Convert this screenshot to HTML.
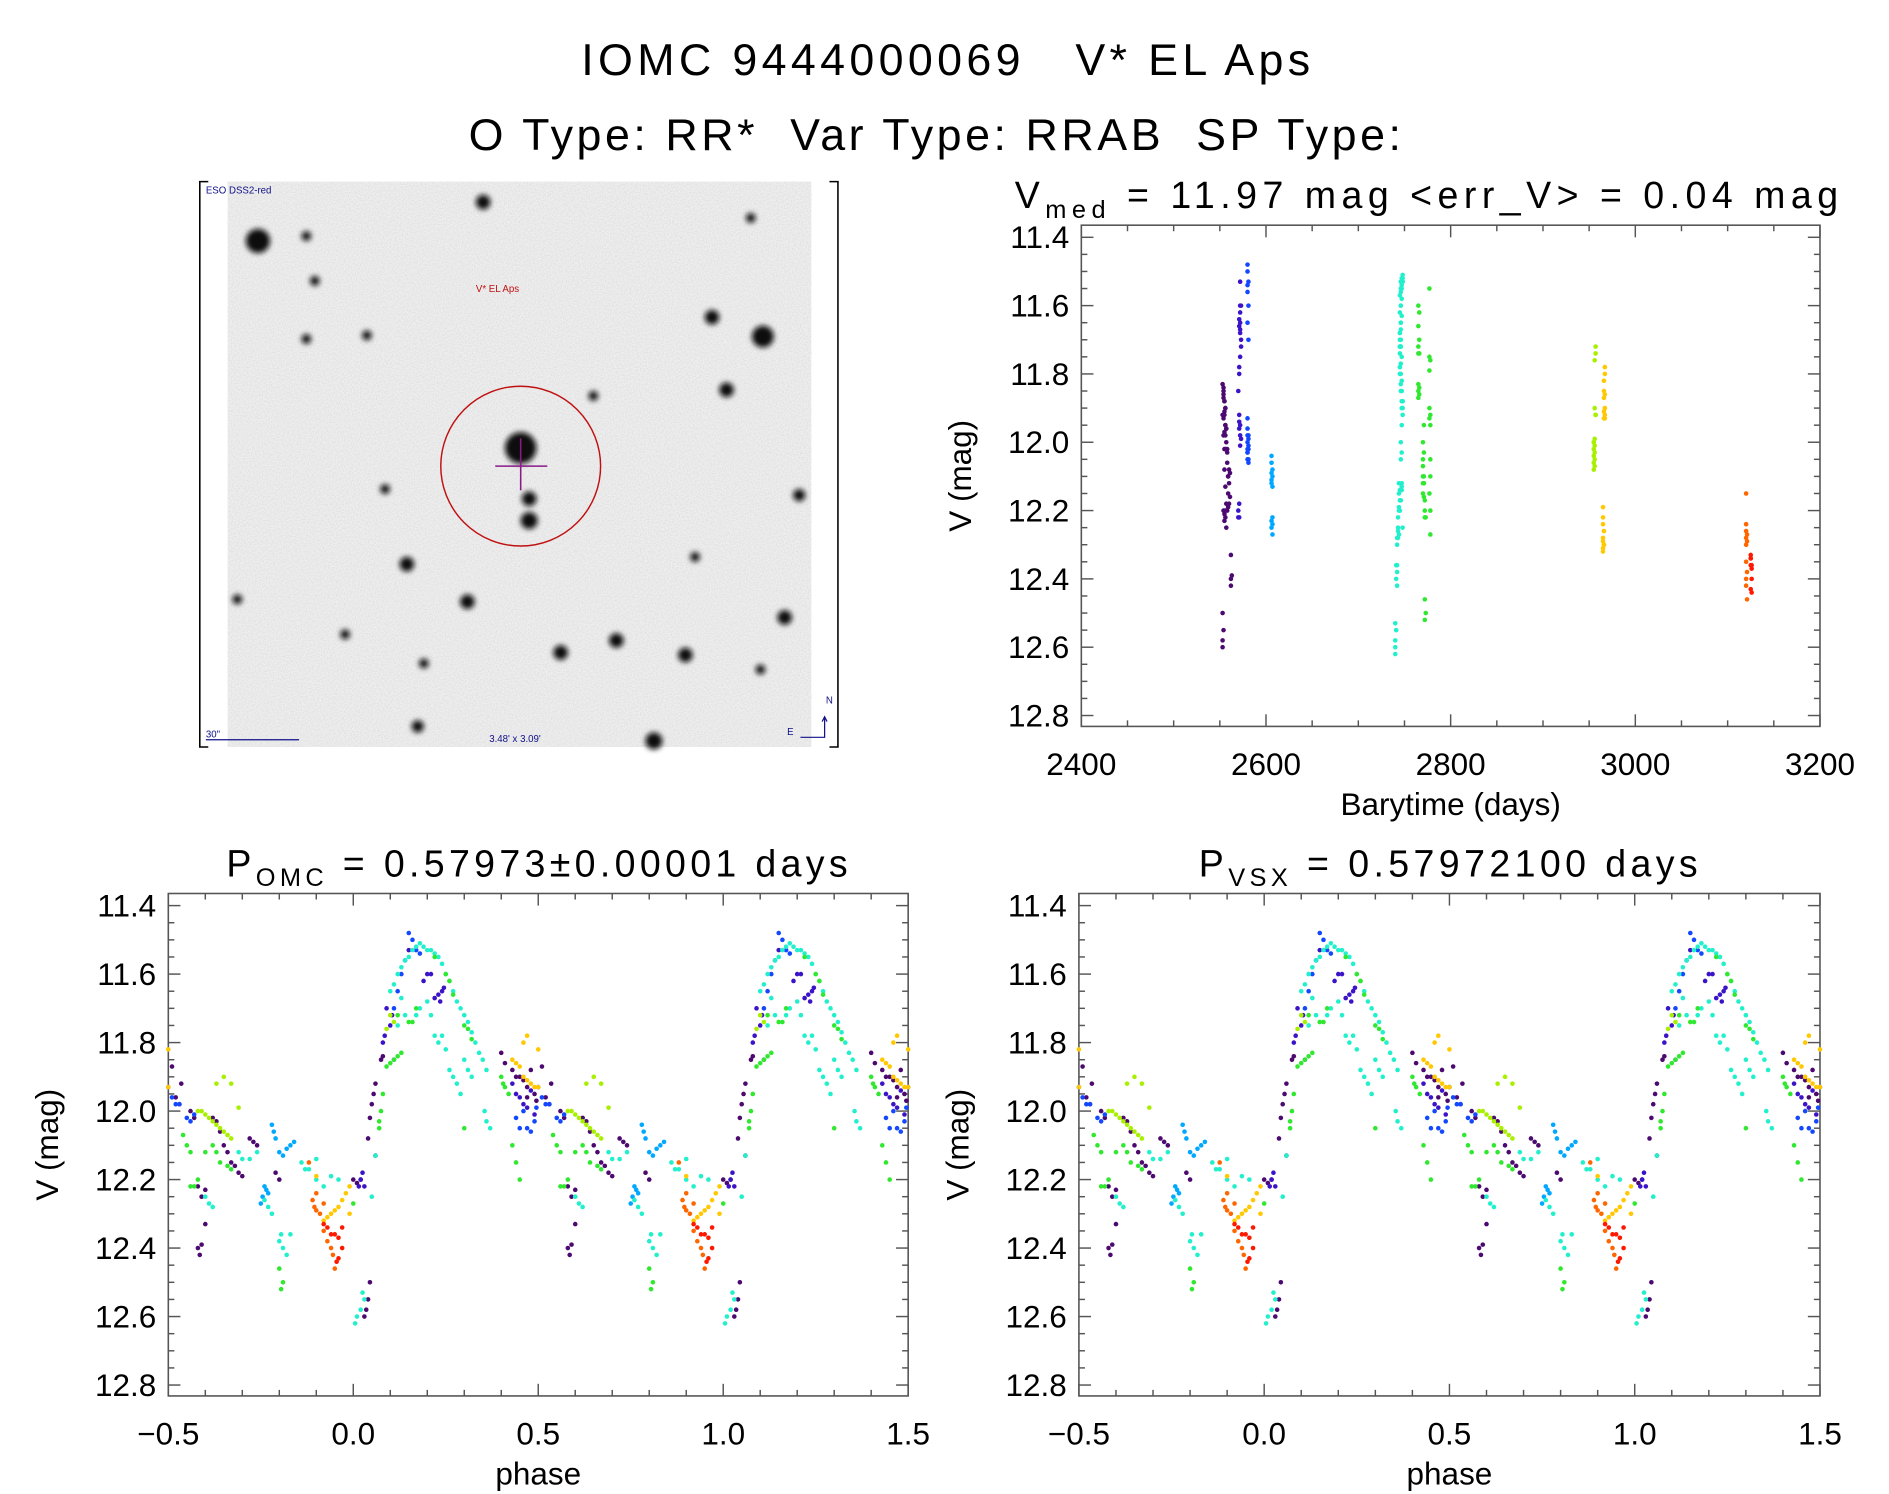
<!DOCTYPE html>
<html><head><meta charset="utf-8"><style>
html,body{margin:0;padding:0;background:#fff;}
svg{display:block;}
text{font-family:"Liberation Sans",sans-serif;fill:#000;}
</style></head><body>
<svg id="fig" width="1889" height="1494" viewBox="0 0 1560 1234" preserveAspectRatio="none" xmlns="http://www.w3.org/2000/svg">
<defs>
<filter id="noise" x="0" y="0" width="100%" height="100%">
<feTurbulence type="fractalNoise" baseFrequency="0.9" numOctaves="1" seed="3"/>
<feColorMatrix type="matrix" values="0 0 0 0 0.5  0 0 0 0 0.5  0 0 0 0 0.5  0 0 0 1.6 -0.6"/>
</filter>
<filter id="blur" x="-100%" y="-100%" width="300%" height="300%"><feGaussianBlur stdDeviation="2.2"/></filter>
</defs>
<text x="781" y="62" font-size="37" text-anchor="middle" textLength="602" xml:space="preserve">IOMC 9444000069   V* EL Aps</text>
<text x="772" y="124" font-size="37" text-anchor="middle" textLength="770" xml:space="preserve">O Type: RR*  Var Type: RRAB  SP Type:</text>
<g id="sky"></g>
<g id="tr"></g>
<g id="bl"></g>
<g id="br"></g>
</svg>
<script>
// ---- data: [barytime, phase, V mag] per color group ----
const purplePts=[[2555,0.04,12.08],[2555,0.045,12.02],[2556,0.05,11.98],[2556,0.055,11.95],[2555,0.06,11.92],[2554,0.075,11.85],[2554,0.08,11.84],[2553,0.40,11.83],[2554,0.41,11.86],[2555,0.43,11.88],[2556,0.45,11.9],[2555,0.46,11.91],[2554,0.47,11.93],[2555,0.48,11.88],[2556,0.49,11.95],[2555,0.495,11.97],[2557,0.52,11.96],[2557,0.56,12.0],[2558,0.57,12.02],[2556,0.62,12.02],[2558,0.63,12.03],[2559,0.65,12.1],[2560,0.66,12.12],[2561,0.68,12.16],[2560,0.69,12.18],[2559,0.7,12.19],[2560,0.72,12.08],[2561,0.73,12.09],[2559,0.74,12.1],[2557,0.79,12.18],[2558,0.8,12.2],[2556,0.58,12.22],[2557,0.59,12.25],[2555,0.6,12.23],[2562,0.58,12.4],[2562,0.585,12.42],[2563,0.59,12.39],[2562,0.6,12.33],[2553,0.03,12.6],[2553,0.035,12.58],[2554,0.04,12.55],[2553,0.045,12.5],[2556,0.0,12.2],[2555,0.01,12.21],[2554,0.02,12.2],[2554,0.53,11.98],[2553,0.535,11.92],[2554,0.51,11.87],[2556,0.44,11.9],[2557,0.47,11.96],[2558,0.64,12.06],[2559,0.67,12.15],[2556,0.06,12.13]];
const indigoPts=[[2572,0.19,11.62],[2572,0.2,11.6],[2573,0.21,11.6],[2572,0.22,11.67],[2571,0.23,11.66],[2572,0.235,11.68],[2571,0.08,11.8],[2571,0.085,11.78],[2572,0.1,11.75],[2573,0.105,11.72],[2573,0.09,11.7],[2572,0.15,11.53],[2571,0.43,11.92],[2572,0.44,11.95],[2571,0.45,11.96],[2572,0.46,11.98],[2573,0.47,11.99],[2571,0.48,11.94],[2572,0.49,12.01],[2570,0.02,12.2],[2571,0.03,12.22],[2570,0.015,12.22],[2571,0.025,12.18],[2572,0.24,11.65],[2571,0.245,11.64],[2570,0.11,11.85]];
const bluePts=[[2580,0.15,11.48],[2580,0.16,11.5],[2581,0.17,11.53],[2580,0.18,11.54],[2580,0.14,11.56],[2581,0.13,11.6],[2580,0.12,11.65],[2581,0.11,11.7],[2580,0.5,11.93],[2580,0.51,11.96],[2581,0.52,11.98],[2580,0.53,11.98],[2581,0.55,12.02],[2580,0.56,12.03],[2581,0.57,12.01],[2580,0.47,12.05],[2581,0.48,12.06],[2580,0.49,12.03],[2580,0.44,12.02],[2581,0.45,12.05],[2580,0.46,12.0],[2581,0.495,11.99]];
const skyPts=[[2606,0.78,12.04],[2607,0.79,12.08],[2606,0.8,12.12],[2607,0.81,12.13],[2606,0.82,12.11],[2607,0.83,12.1],[2606,0.84,12.09],[2607,0.76,12.22],[2606,0.765,12.23],[2607,0.77,12.24],[2606,0.755,12.25],[2607,0.75,12.27],[2606,0.785,12.06]];
const cyanPts=[[2746,0.1,11.65],[2747,0.11,11.63],[2746,0.12,11.6],[2747,0.13,11.58],[2746,0.14,11.56],[2747,0.15,11.55],[2748,0.16,11.53],[2748,0.17,11.52],[2748,0.18,11.51],[2747,0.19,11.52],[2748,0.2,11.53],[2746,0.21,11.53],[2747,0.22,11.54],[2746,0.23,11.55],[2745,0.24,11.57],[2746,0.25,11.6],[2745,0.26,11.62],[2746,0.27,11.65],[2745,0.28,11.68],[2745,0.29,11.7],[2746,0.3,11.72],[2745,0.31,11.74],[2746,0.32,11.77],[2745,0.33,11.8],[2746,0.34,11.83],[2747,0.35,11.85],[2748,0.36,11.88],[2745,0.17,11.72],[2746,0.18,11.7],[2745,0.2,11.68],[2746,0.21,11.72],[2745,0.22,11.78],[2746,0.23,11.8],[2745,0.24,11.78],[2747,0.25,11.82],[2748,0.26,11.88],[2747,0.27,11.9],[2748,0.28,11.92],[2747,0.29,11.95],[2746,0.3,11.85],[2747,0.31,11.88],[2748,0.32,11.9],[2746,0.355,12.0],[2747,0.36,12.03],[2746,0.37,12.05],[2745,0.14,11.72],[2746,0.13,11.67],[2747,0.12,11.75],[2743,0.6,12.25],[2744,0.61,12.27],[2743,0.62,12.28],[2742,0.8,12.38],[2742,0.805,12.36],[2741,0.81,12.4],[2742,0.82,12.42],[2741,0.83,12.36],[2744,0.69,12.12],[2745,0.7,12.14],[2746,0.72,12.14],[2747,0.74,12.12],[2743,0.76,12.26],[2742,0.77,12.28],[2742,0.78,12.3],[2744,0.86,12.15],[2745,0.87,12.17],[2746,0.88,12.17],[2747,0.9,12.14],[2744,0.9,12.2],[2743,0.92,12.22],[2744,0.94,12.19],[2745,0.96,12.2],[2740,0.005,12.62],[2740,0.01,12.6],[2740,0.02,12.58],[2741,0.03,12.55],[2740,0.025,12.53],[2747,0.06,12.13],[2748,0.05,12.25]];
const greenPts=[[2770,0.07,12.05],[2771,0.07,12.03],[2770,0.075,12.0],[2771,0.08,11.95],[2765,0.09,11.87],[2766,0.1,11.86],[2765,0.11,11.85],[2766,0.12,11.84],[2765,0.13,11.83],[2765,0.12,11.72],[2766,0.15,11.74],[2765,0.16,11.74],[2766,0.17,11.7],[2765,0.25,11.6],[2766,0.26,11.62],[2765,0.27,11.66],[2777,0.3,11.75],[2778,0.31,11.76],[2777,0.32,11.79],[2777,0.4,11.9],[2778,0.405,11.92],[2777,0.41,11.93],[2778,0.42,11.95],[2770,0.54,12.07],[2771,0.55,12.1],[2770,0.56,12.12],[2771,0.6,12.12],[2770,0.62,12.1],[2771,0.63,12.12],[2770,0.64,12.15],[2771,0.66,12.16],[2772,0.67,12.17],[2772,0.56,12.22],[2773,0.57,12.22],[2772,0.58,12.2],[2772,0.8,12.46],[2773,0.81,12.5],[2772,0.805,12.52],[2778,0.3,12.05],[2778,0.43,12.1],[2777,0.44,12.15],[2778,0.45,12.2],[2778,0.0,12.27],[2777,0.22,11.55]];
const ygreenPts=[[2955,0.58,12.0],[2955,0.59,12.0],[2956,0.6,12.01],[2955,0.61,12.02],[2956,0.62,12.03],[2955,0.63,12.04],[2956,0.64,12.05],[2955,0.65,12.06],[2956,0.66,12.07],[2955,0.67,12.08],[2956,0.69,11.99],[2957,0.63,11.92],[2956,0.65,11.9],[2957,0.67,11.92],[2957,0.1,11.72],[2957,0.11,11.74],[2956,0.09,11.76]];
const yellowPts=[[2966,0.43,11.85],[2967,0.44,11.86],[2966,0.45,11.87],[2967,0.46,11.9],[2966,0.47,11.91],[2967,0.48,11.92],[2966,0.49,11.93],[2967,0.5,11.93],[2967,0.46,11.8],[2967,0.47,11.78],[2966,0.5,11.82],[2965,0.92,12.32],[2965,0.93,12.31],[2966,0.94,12.3],[2965,0.95,12.29],[2965,0.96,12.28],[2966,0.97,12.26],[2965,0.98,12.24],[2965,0.99,12.22],[2966,0.99,12.3],[2965,0.9,12.19]];
const orangePts=[[3120,0.89,12.26],[3120,0.895,12.28],[3121,0.9,12.29],[3120,0.91,12.3],[3120,0.92,12.35],[3121,0.93,12.38],[3120,0.94,12.4],[3120,0.945,12.42],[3121,0.95,12.46],[3120,0.9,12.24],[3121,0.92,12.27],[3120,0.88,12.15]];
const redPts=[[3125,0.92,12.33],[3125,0.93,12.34],[3126,0.94,12.36],[3125,0.95,12.36],[3126,0.96,12.37],[3125,0.97,12.34],[3126,0.97,12.4],[3125,0.96,12.43],[3126,0.955,12.44]];
const groups=[[purplePts,'#4c0a70'],[indigoPts,'#3c14c8'],[bluePts,'#1448ff'],[skyPts,'#00a8ff'],[cyanPts,'#22f0cc'],[greenPts,'#30e830'],[ygreenPts,'#a8f000'],[yellowPts,'#ffc800'],[orangePts,'#ff6600'],[redPts,'#ff1800']];
const magTicks=[11.4,11.6,11.8,12.0,12.2,12.4,12.6,12.8];
const timeTicks=[2400,2600,2800,3000,3200];
const phaseTicks=[-0.5,0.0,0.5,1.0,1.5];
const phaseLabels=['\u22120.5','0.0','0.5','1.0','1.5'];
const skyStars=[[213,199,9],[253,195,3],[399,167,5],[630,278,8],[588,262,5],[600,322,5],[430,370,12],[437,412,5],[437,430,6],[336,466,5],[386,497,5],[463,539,5],[509,529,5],[566,541,5],[540,612,6],[345,600,4],[648,510,5],[660,409,4],[318,404,3],[253,280,3],[303,277,3],[490,327,3],[285,524,3],[350,548,3],[196,495,3],[628,553,3],[260,232,3],[620,180,3],[574,460,3]];

const NS='http://www.w3.org/2000/svg';
function mk(parent,tag,attrs,txt){const e=document.createElementNS(NS,tag);for(const k in attrs)e.setAttribute(k,attrs[k]);if(txt!==undefined)e.textContent=txt;parent.appendChild(e);return e;}

function panel(g,box,xdom,xt,xl,xminor,subMain,subSub,subRest,titleX,titleW,xlabel,ylabX){
  const [x0,x1,y0,y1]=box;
  const X=v=>x0+(v-xdom[0])/(xdom[1]-xdom[0])*(x1-x0);
  const yA=y0+10,yB=y1-9;
  const Y=m=>yA+(m-11.4)/1.4*(yB-yA);
  const fr=mk(g,'rect',{x:x0,y:y0,width:x1-x0,height:y1-y0,fill:'none',stroke:'#555','stroke-width':1.3});
  
  
  const ax=mk(g,'g',{stroke:'#555','stroke-width':1.2});
  
  
  for(let i=0;i<=28;i++){const m=11.4+i*0.05;const y=Y(m);if(y<y0||y>y1)continue;const L=(i%4===0)?10:5;
    mk(ax,'line',{x1:x0,y1:y,x2:x0+L,y2:y});mk(ax,'line',{x1:x1,y1:y,x2:x1-L,y2:y});}
  for(let v=xdom[0];v<=xdom[1]+1e-9;v+=xminor){const x=X(v);const maj=xt.some(t=>Math.abs(t-v)<1e-6);const L=maj?10:5;
    mk(ax,'line',{x1:x,y1:y1,x2:x,y2:y1-L});mk(ax,'line',{x1:x,y1:y0,x2:x,y2:y0+L});}
  magTicks.forEach(m=>{const t=mk(g,'text',{x:x0-10,y:Y(m)+9,'font-size':26,'text-anchor':'end'},m.toFixed(1));
    });
  xt.forEach((v,i)=>{const t=mk(g,'text',{x:X(v),y:y1+40,'font-size':26,'text-anchor':'middle'},xl[i]);
    });
  const xlab=mk(g,'text',{x:(x0+x1)/2,y:y1+73,'font-size':26,'text-anchor':'middle'},xlabel);
  
  const yc=(y0+y1)/2;
  const ylab=mk(g,'text',{x:ylabX,y:yc,'font-size':26,'text-anchor':'middle',transform:'rotate(-90 '+ylabX+' '+yc+')'},'V (mag)');
  
  const tt=mk(g,'text',{x:titleX,y:y0-14,'font-size':31,textLength:titleW,lengthAdjust:'spacing'});
  
  mk(tt,'tspan',{},subMain);
  mk(tt,'tspan',{'font-size':21,dy:8},subSub);
  mk(tt,'tspan',{dy:-8},subRest);
  return {X,Y,x0,x1};
}

// time plot
const tr=document.getElementById('tr');
const P1=panel(tr,[893,1503,186,600],[2400,3200],timeTicks,timeTicks.map(String),50,'V','med',' = 11.97 mag <err_V> = 0.04 mag',838,680,'Barytime (days)',802);
groups.forEach(([pts,col])=>{
  const gg=mk(tr,'g',{fill:col});
  
  
  pts.forEach(p=>{const c=mk(gg,'circle',{cx:P1.X(p[0]),cy:P1.Y(p[2]),r:1.9});
    });
});

function phasePlot(id,box,sub,rest,tx,tw,ylx){
  const g=document.getElementById(id);
  const P=panel(g,box,[-0.5,1.5],phaseTicks,phaseLabels,0.1,'P',sub,rest,tx,tw,'phase',ylx);
  groups.forEach(([pts,col])=>{
    const gg=mk(g,'g',{fill:col});
    
    
    pts.forEach(p=>{[-1,0,1].forEach(k=>{const ph=p[1]+k;if(ph<-0.5||ph>1.5)return;
      const c=mk(gg,'circle',{cx:P.X(ph),cy:P.Y(p[2]),r:1.9});
      });});
  });
}
phasePlot('bl',[139,750,738,1153],'OMC',' = 0.57973\u00b10.00001 days',187,513,48);
phasePlot('br',[891,1503,738,1153],'VSX',' = 0.57972100 days',990,412,800);

// sky image
const sky=document.getElementById('sky');
mk(sky,'rect',{x:188,y:150,width:482,height:467,fill:'#eeeeee'});
mk(sky,'rect',{x:188,y:150,width:482,height:467,fill:'#000',filter:'url(#noise)',opacity:0.45});
skyStars.forEach(s=>{const c=mk(sky,'circle',{cx:s[0],cy:s[1],r:s[2]+1,fill:'#111',filter:'url(#blur)'});
  });
mk(sky,'line',{x1:412,y1:370,x2:448,y2:370,stroke:'#999','stroke-width':2,filter:'url(#blur)'});
mk(sky,'line',{x1:430,y1:350,x2:430,y2:392,stroke:'#999','stroke-width':2,filter:'url(#blur)'});
const circ=mk(sky,'circle',{cx:430,cy:385,r:66,fill:'none',stroke:'#c01010','stroke-width':1.2});

mk(sky,'line',{x1:409,y1:385,x2:452,y2:385,stroke:'#8a1a8a','stroke-width':1.3});
mk(sky,'line',{x1:430,y1:362,x2:430,y2:405,stroke:'#8a1a8a','stroke-width':1.3});
const frm=mk(sky,'path',{d:'M172,150 H165 V617 H172 M685,150 H692 V617 H685',fill:'none',stroke:'#000','stroke-width':1.3});

mk(sky,'text',{x:170,y:160,'font-size':8,style:'fill:#10108a'},'ESO DSS2-red');
mk(sky,'text',{x:393,y:241,'font-size':8,style:'fill:#c01010'},'V* EL Aps');
mk(sky,'text',{x:170,y:609,'font-size':8,style:'fill:#10108a'},'30"');
mk(sky,'line',{x1:170,y1:611,x2:247,y2:611,stroke:'#10108a','stroke-width':1});
mk(sky,'text',{x:404,y:613,'font-size':8,style:'fill:#10108a'},"3.48' x 3.09'");
mk(sky,'path',{d:'M661,609 H681 V593 M679,596 L681,592 L683,596',fill:'none',stroke:'#10108a','stroke-width':1});
mk(sky,'text',{x:682,y:581,'font-size':8,style:'fill:#10108a'},'N');
mk(sky,'text',{x:650,y:607,'font-size':8,style:'fill:#10108a'},'E');
</script>
</body></html>
